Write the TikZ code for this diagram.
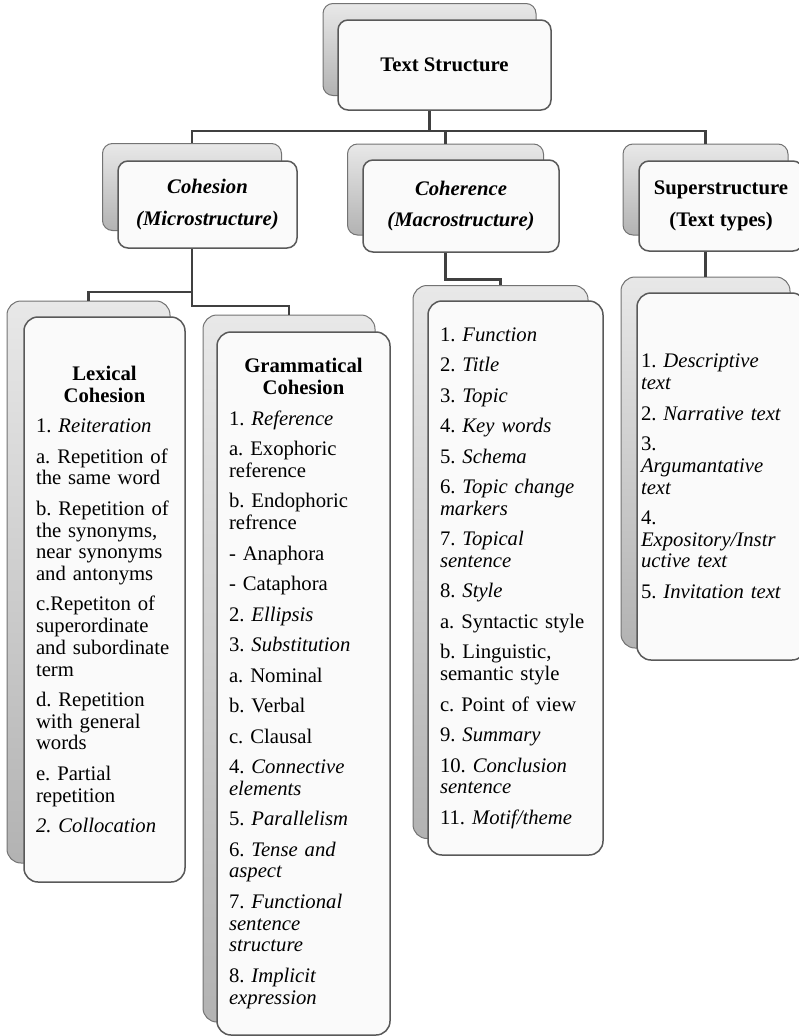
\documentclass[tikz,border=0pt]{standalone}
\usepackage{fontspec}
\setmainfont{Liberation Serif}
\usepackage{tikz}

\newcommand{\hd}[1]{\makebox[\linewidth]{\textbf{#1}}}
\newcommand{\itgap}{\\[8.8pt]}

\begin{document}
\begin{tikzpicture}[x=1pt, y=-1pt,
    link/.style={draw=black!75, line width=2.6pt},
    backbox/.style={draw=black!55, line width=1pt, rounded corners=10pt,
        top color=black!9, bottom color=black!30},
    frontbox/.style={draw=black!65, line width=1.5pt, rounded corners=10pt,
        fill=black!2, align=center, font=\fontsize{20.7}{21.7}\selectfont\frenchspacing},
    listbox/.style={frontbox, rounded corners=14pt, align=left, inner xsep=12pt}]

    \useasboundingbox (0,0) rectangle (798,1036);

    % boxes behind
    \node[backbox, minimum width=213pt, minimum height=92pt] (tsB) at (429.5,49.5) {};
    \node[backbox, minimum width=179pt, minimum height=87pt] (cohB) at (192,187) {};
    \node[backbox, minimum width=196pt, minimum height=91pt] (cohrB) at (445.5,189.5) {};
    \node[backbox, minimum width=165pt, minimum height=91pt] (supB) at (705.5,189.5) {};
    \node[backbox, rounded corners=14pt, minimum width=163pt, minimum height=562pt] (lexB) at (88.5,582) {};
    \node[backbox, rounded corners=14pt, minimum width=172pt, minimum height=707pt] (gramB) at (289,668.5) {};
    \node[backbox, rounded corners=14pt, minimum width=175pt, minimum height=553pt] (cohlB) at (500.5,562) {};
    \node[backbox, rounded corners=14pt, minimum width=169pt, minimum height=371pt] (suplB) at (705.5,462.5) {};

    % tree lines
    \draw[link] (tsB.south) -- ++(0,35) -| (cohB.north);
    \draw[link] (tsB.south) -- ++(0,35) -| (cohrB.north);
    \draw[link] (tsB.south) -- ++(0,35) -| (supB.north);
    \draw[link] (cohB.south) -- ++(0,61) -| (lexB.north);
    \draw[link] (cohB.south) -- ++(0,75) -| (gramB.north);
    \draw[link] (cohrB.south) -- ++(0,44) -| (cohlB.north);
    \draw[link] (supB.south) -- (suplB.north);

    % front boxes
    \node[frontbox, minimum width=213pt, minimum height=90pt] (ts) at (444.5,65) {\textbf{Text Structure}};
    \node[frontbox, minimum width=179pt, minimum height=87pt] (coh) at (207.5,204.5)
        {\textbf{\textit{Cohesion}}\\[10pt]\textbf{\textit{(Microstructure)}}};
    \node[frontbox, minimum width=196pt, minimum height=92pt] (cohr) at (461,206)
        {\textbf{\textit{Coherence}}\\[10pt]\textbf{\textit{(Macrostructure)}}};
    \node[frontbox, minimum width=164pt, minimum height=90pt] (sup) at (721,206)
        {\textbf{Superstructure}\\[10pt]\textbf{(Text types)}};

    \node[listbox, text width=137pt, minimum height=565pt] (lex) at (104.5,599.5)
        {\hd{Lexical}\\ \hd{Cohesion}\itgap
         1. \textit{Reiteration}\itgap
         a. Repetition of\\ the same word\itgap
         b. Repetition of\\ the synonyms,\\ near synonyms\\ and antonyms\itgap
         c.Repetiton of\\ superordinate\\ and subordinate\\ term\itgap
         d. Repetition\\ with general\\ words\itgap
         e. Partial\\ repetition\itgap
         \textit{2. Collocation}};

    \node[listbox, text width=149pt, minimum height=703pt] (gram) at (303.5,683.5)
        {\hd{Grammatical}\\ \hd{Cohesion}\itgap
         1. \textit{Reference}\itgap
         a. Exophoric\\ reference\itgap
         b. Endophoric\\ refrence\itgap
         - Anaphora\itgap
         - Cataphora\itgap
         2. \textit{Ellipsis}\itgap
         3. \textit{Substitution}\itgap
         a. Nominal\itgap
         b. Verbal\itgap
         c. Clausal\itgap
         4. \textit{Connective}\\ \textit{elements}\itgap
         5. \textit{Parallelism}\itgap
         6. \textit{Tense and}\\ \textit{aspect}\itgap
         7. \textit{Functional}\\ \textit{sentence}\\ \textit{structure}\itgap
         8. \textit{Implicit}\\ \textit{expression}};

    \node[listbox, text width=151pt, minimum height=554pt] (cohl) at (515.5,578)
        {1. \textit{Function}\itgap
         2. \textit{Title}\itgap
         3. \textit{Topic}\itgap
         4. \textit{Key words}\itgap
         5. \textit{Schema}\itgap
         6. \textit{Topic change}\\ \textit{markers}\itgap
         7. \textit{Topical}\\ \textit{sentence}\itgap
         8. \textit{Style}\itgap
         a. Syntactic style\itgap
         b. Linguistic,\\ semantic style\itgap
         c. Point of view\itgap
         9. \textit{Summary}\itgap
         10. \textit{Conclusion}\\ \textit{sentence}\itgap
         11. \textit{Motif/theme}};

    \node[listbox, inner xsep=4pt, text width=161pt, minimum height=367pt] (supl) at (721.5,476.5)
        {1. \textit{Descriptive}\\ \textit{text}\itgap
         2. \textit{Narrative text}\itgap
         3.\\ \textit{Argumantative}\\ \textit{text}\itgap
         4.\\ \textit{Expository/Instr}\\ \textit{uctive text}\itgap
         5. \textit{Invitation text}};

\end{tikzpicture}
\end{document}
